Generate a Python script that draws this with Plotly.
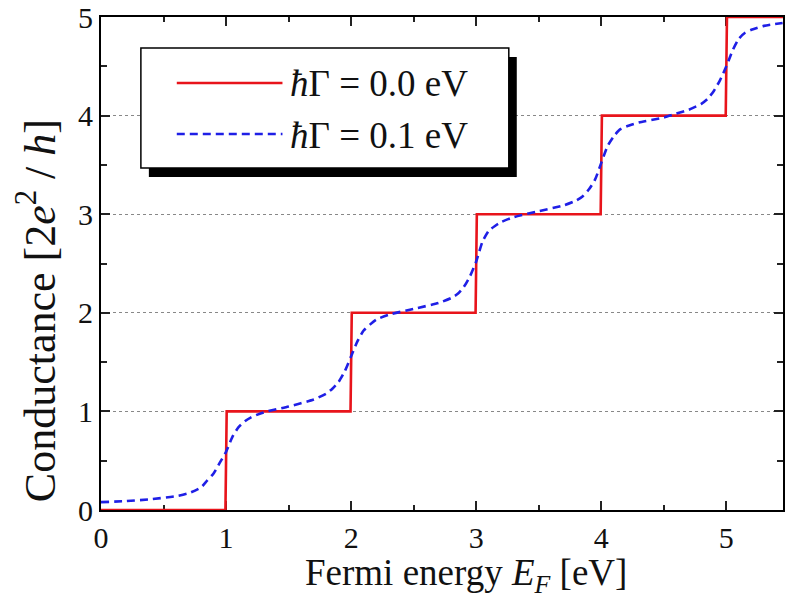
import plotly.graph_objects as go

# ---- data ----
energy_blue = [0.0, 0.2, 0.4, 0.6, 0.7, 0.8, 0.85, 0.9, 0.95, 1.0, 1.05, 1.1, 1.15, 1.2, 1.3,
               1.5, 1.7, 1.8, 1.85, 1.9, 1.95, 2.0, 2.05, 2.1, 2.15, 2.2, 2.3,
               2.5, 2.7, 2.8, 2.85, 2.9, 2.95, 3.0, 3.05, 3.1, 3.15, 3.2, 3.3,
               3.5, 3.7, 3.8, 3.85, 3.9, 3.95, 4.0, 4.05, 4.1, 4.15, 4.2, 4.3,
               4.5, 4.6, 4.7, 4.8, 4.85, 4.9, 4.95, 5.0, 5.05, 5.1, 5.15, 5.2, 5.3, 5.45]
cond_blue = [0.08, 0.09, 0.11, 0.14, 0.17, 0.23, 0.30, 0.37, 0.48, 0.59, 0.74, 0.84, 0.90, 0.94, 0.99,
             1.05, 1.12, 1.18, 1.23, 1.30, 1.41, 1.56, 1.71, 1.82, 1.88, 1.93, 1.98,
             2.04, 2.10, 2.15, 2.19, 2.26, 2.37, 2.52, 2.72, 2.83, 2.88, 2.92, 2.97,
             3.03, 3.09, 3.14, 3.18, 3.25, 3.35, 3.52, 3.69, 3.79, 3.86, 3.89, 3.93,
             3.98, 4.02, 4.06, 4.12, 4.17, 4.25, 4.36, 4.50, 4.66, 4.78, 4.84, 4.87, 4.91, 4.94]

energy_red = [0.0, 0.995, 1.005, 1.995, 2.005, 2.995, 3.005, 3.995, 4.005, 4.995, 5.005, 5.5]
cond_red = [0, 0, 1, 1, 2, 2, 3, 3, 4, 4, 5, 5]

legend_labels = ["<i>ħ</i>Γ = 0.0 eV", "<i>ħ</i>Γ = 0.1 eV"]
x_ticks = [0, 1, 2, 3, 4, 5]
y_ticks = [0, 1, 2, 3, 4, 5]

RED = "#e8141b"
BLUE = "#1f1fe6"
FONT = "Liberation Serif"

fig = go.Figure()
fig.add_trace(go.Scatter(x=energy_red, y=cond_red, mode="lines",
                         line=dict(color=RED, width=2.6), showlegend=False))
fig.add_trace(go.Scatter(x=energy_blue, y=cond_blue, mode="lines",
                         line=dict(color=BLUE, width=2.6, dash="8px,5px", shape="spline", smoothing=0.6),
                         showlegend=False))

W, H = 785, 598
L, R, T, B = 101, 0, 17, 88
pw, ph = W - L - R, H - T - B

def px(xp):
    return (xp - L) / pw

def py(yp):
    return (H - B - yp) / ph

axis_common = dict(showline=True, linecolor="black", linewidth=2, mirror="allticks",
                   ticks="inside", ticklen=9, tickwidth=1.6, tickcolor="#222",
                   tickfont=dict(family=FONT, size=30, color="#111"),
                   ticklabeloverflow="allow",
                   zeroline=False, layer="below traces")

fig.update_xaxes(range=[0, 5.453], tickvals=x_ticks, showgrid=False,
                 minor=dict(dtick=0.5, ticks="inside", ticklen=5, tickwidth=1.6, tickcolor="#222"),
                 **axis_common)
fig.update_yaxes(range=[0, 5], tickvals=y_ticks, showgrid=True, gridcolor="#888",
                 gridwidth=1, griddash="dot",
                 minor=dict(dtick=0.5, ticks="inside", ticklen=6, tickwidth=1.6, tickcolor="#222",
                            showgrid=False),
                 **axis_common)

shapes = []
# legend shadow and box
shapes.append(dict(type="rect", xref="paper", yref="paper",
                   x0=px(149), x1=px(518), y0=py(177), y1=py(57),
                   fillcolor="black", line=dict(width=0), layer="above"))
shapes.append(dict(type="rect", xref="paper", yref="paper",
                   x0=px(141), x1=px(510), y0=py(168), y1=py(48),
                   fillcolor="white", line=dict(color="black", width=1.5), layer="above"))
shapes.append(dict(type="line", xref="paper", yref="paper",
                   x0=px(177), x1=px(283), y0=py(83), y1=py(83),
                   line=dict(color=RED, width=2.6), layer="above"))
shapes.append(dict(type="line", xref="paper", yref="paper",
                   x0=px(177), x1=px(283), y0=py(134), y1=py(134),
                   line=dict(color=BLUE, width=2.6, dash="8px,5px"), layer="above"))

annotations = [
    dict(text=legend_labels[0], xref="paper", yref="paper", x=px(289), y=py(84),
         xanchor="left", yanchor="middle", showarrow=False,
         font=dict(family=FONT, size=37, color="#111")),
    dict(text=legend_labels[1], xref="paper", yref="paper", x=px(289), y=py(135),
         xanchor="left", yanchor="middle", showarrow=False,
         font=dict(family=FONT, size=37, color="#111")),
    dict(text="Fermi energy <i>E</i><sub><i>F</i></sub> [eV]", xref="paper", yref="paper",
         x=px(467), y=py(575), xanchor="center", yanchor="middle", showarrow=False,
         font=dict(family=FONT, size=37, color="#111")),
    dict(text="Conductance [2<i>e</i><sup>2</sup> / <i>h</i>]", xref="paper", yref="paper",
         x=px(36), y=py(311), xanchor="center", yanchor="middle", showarrow=False, textangle=-90,
         font=dict(family=FONT, size=44, color="#111")),
]

fig.update_layout(width=W, height=H, margin=dict(l=L, r=R, t=T, b=B, pad=0),
                  paper_bgcolor="white", plot_bgcolor="white",
                  shapes=shapes, annotations=annotations, showlegend=False)

fig.write_html("out.html", config={"displayModeBar": False},
               post_script="document.body.style.margin='0';document.body.style.overflow='hidden';")
